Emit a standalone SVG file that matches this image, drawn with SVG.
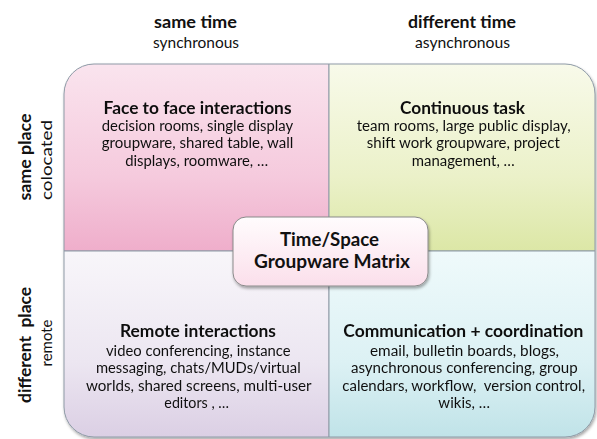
<svg xmlns="http://www.w3.org/2000/svg" width="597" height="439" viewBox="0 0 597 439">
<defs>
<linearGradient id="gTL" x1="0" y1="0" x2="0" y2="1"><stop offset="0" stop-color="#fae4ee"/><stop offset="0.6" stop-color="#f5cadd"/><stop offset="1" stop-color="#efaecb"/></linearGradient>
<linearGradient id="gTR" x1="0" y1="0" x2="0" y2="1"><stop offset="0" stop-color="#f8faea"/><stop offset="0.6" stop-color="#ebf1c9"/><stop offset="1" stop-color="#dce7a6"/></linearGradient>
<linearGradient id="gBL" x1="0" y1="0" x2="0" y2="1"><stop offset="0" stop-color="#f8f6fa"/><stop offset="0.6" stop-color="#ece6f1"/><stop offset="1" stop-color="#dbcfe4"/></linearGradient>
<linearGradient id="gBR" x1="0" y1="0" x2="0" y2="1"><stop offset="0" stop-color="#effafb"/><stop offset="0.6" stop-color="#dcf1f4"/><stop offset="1" stop-color="#c0e3e8"/></linearGradient>
<linearGradient id="gC" x1="0" y1="0" x2="0" y2="1"><stop offset="0" stop-color="#fffcfd"/><stop offset="1" stop-color="#fbdfeb"/></linearGradient>
<filter id="sh" x="-10%" y="-10%" width="120%" height="130%"><feDropShadow dx="1" dy="2" stdDeviation="1.5" flood-color="#000" flood-opacity="0.35"/></filter>
</defs>
<style>
text{font-family:Lato,"Liberation Sans",sans-serif;fill:#111;text-anchor:middle;white-space:pre}
.h{font-weight:bold;font-size:17px}
.s{font-size:15px}
.t{font-weight:bold;font-size:16.5px}
.b{font-size:14.5px}
.q{stroke:#8e9aa6;stroke-width:1}
.c{font-weight:bold;font-size:18.5px}
</style>
<g id="headers">
<text class="h" x="195.5" y="28" textLength="83" lengthAdjust="spacingAndGlyphs">same time</text>
<text class="s" x="196" y="48" textLength="86" lengthAdjust="spacingAndGlyphs">synchronous</text>
<text class="h" x="462" y="28" textLength="108" lengthAdjust="spacingAndGlyphs">different time</text>
<text class="s" x="462.5" y="48" textLength="95" lengthAdjust="spacingAndGlyphs">asynchronous</text>
<text class="h" transform="translate(31,157) rotate(-90)" textLength="87" lengthAdjust="spacingAndGlyphs">same place</text>
<text class="s" transform="translate(52,160) rotate(-90)" textLength="80" lengthAdjust="spacingAndGlyphs">colocated</text>
<text class="h" transform="translate(31,345) rotate(-90)" textLength="116" lengthAdjust="spacingAndGlyphs">different  place</text>
<text class="s" transform="translate(52,343) rotate(-90)" textLength="47" lengthAdjust="spacingAndGlyphs">remote</text>
</g>
<g filter="url(#sh)">
<g id="q-face">
<path class="q" fill="url(#gTL)" d="M64,94 A30,30 0 0 1 94,64 L329,64 L329,251 L64,251 Z"/>
<text class="t" x="197.5" y="113.5" textLength="188" lengthAdjust="spacingAndGlyphs">Face to face interactions</text>
<text class="b" x="197.5" y="131" textLength="191.5" lengthAdjust="spacingAndGlyphs">decision rooms, single display</text>
<text class="b" x="197.5" y="148.3" textLength="191.5" lengthAdjust="spacingAndGlyphs">groupware, shared table, wall</text>
<text class="b" x="196.7" y="165.5" textLength="143" lengthAdjust="spacingAndGlyphs">displays, roomware, …</text>
</g>
<g id="q-continuous">
<path class="q" fill="url(#gTR)" d="M329,64 L565,64 A30,30 0 0 1 595,94 L595,251 L329,251 Z"/>
<text class="t" x="462.5" y="113.5" textLength="125" lengthAdjust="spacingAndGlyphs">Continuous task</text>
<text class="b" x="463.7" y="131" textLength="214" lengthAdjust="spacingAndGlyphs">team rooms, large public display,</text>
<text class="b" x="463.3" y="148.3" textLength="193" lengthAdjust="spacingAndGlyphs">shift work groupware, project</text>
<text class="b" x="463.3" y="165.5" textLength="103" lengthAdjust="spacingAndGlyphs">management, …</text>
</g>
<g id="q-remote">
<path class="q" fill="url(#gBL)" d="M64,251 L329,251 L329,437 L94,437 A30,30 0 0 1 64,407 Z"/>
<text class="t" x="198" y="337" textLength="156" lengthAdjust="spacingAndGlyphs">Remote interactions</text>
<text class="b" x="198.3" y="355.5" textLength="184.7" lengthAdjust="spacingAndGlyphs">video conferencing, instance</text>
<text class="b" x="198.3" y="373.3" textLength="204.7" lengthAdjust="spacingAndGlyphs">messaging, chats/MUDs/virtual</text>
<text class="b" x="198.8" y="390.7" textLength="225.7" lengthAdjust="spacingAndGlyphs">worlds, shared screens, multi-user</text>
<text class="b" x="196.7" y="408" textLength="64.7" lengthAdjust="spacingAndGlyphs">editors , …</text>
</g>
<g id="q-communication">
<path class="q" fill="url(#gBR)" d="M329,251 L595,251 L595,407 A30,30 0 0 1 565,437 L329,437 Z"/>
<text class="t" x="463.3" y="337" textLength="240" lengthAdjust="spacingAndGlyphs">Communication + coordination</text>
<text class="b" x="464.5" y="355.5" textLength="189" lengthAdjust="spacingAndGlyphs">email, bulletin boards, blogs,</text>
<text class="b" x="464.3" y="373.3" textLength="226.7" lengthAdjust="spacingAndGlyphs">asynchronous conferencing, group</text>
<text class="b" x="463.7" y="390.7" textLength="242.7" lengthAdjust="spacingAndGlyphs">calendars, workflow,  version control,</text>
<text class="b" x="464.2" y="408" textLength="51.7" lengthAdjust="spacingAndGlyphs">wikis, …</text>
</g>
</g>
<g id="center">
<rect x="233" y="217" width="195" height="69" rx="13" fill="url(#gC)" stroke="#8a8a8a" stroke-width="1" filter="url(#sh)"/>
<text class="c" x="329.5" y="246" textLength="99" lengthAdjust="spacingAndGlyphs">Time/Space</text>
<text class="c" x="332" y="268" textLength="156" lengthAdjust="spacingAndGlyphs">Groupware Matrix</text>
</g>
<g id="connectors"/>
</svg>
